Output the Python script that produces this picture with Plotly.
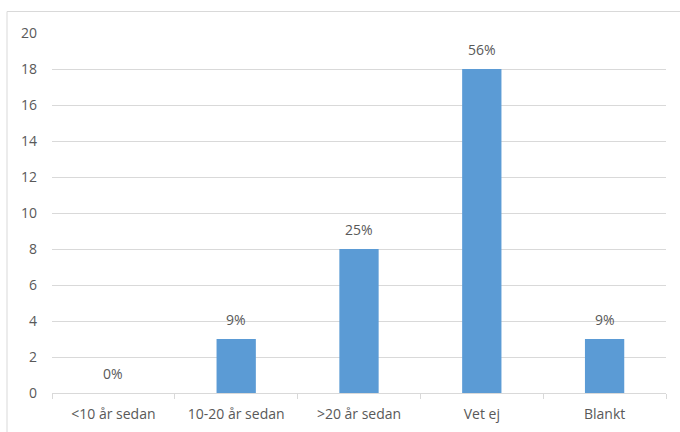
import plotly.graph_objects as go

categories = ["<10 år sedan", "10-20 år sedan", ">20 år sedan", "Vet ej", "Blankt"]
counts = [0, 3, 8, 18, 3]
percent_labels = ["0%", "9%", "25%", "56%", "9%"]
y_ticks = [0, 2, 4, 6, 8, 10, 12, 14, 16, 18, 20]

FONT = "Open Sans, Noto Sans, sans-serif"
TEXT_COLOR = "#595959"
BAR_COLOR = "#5b9bd5"
SIZE = 14

W, H = 680, 432
L, R, T, B = 52, 14, 33, 39

fig = go.Figure()
fig.add_trace(go.Bar(
    x=categories,
    y=counts,
    marker=dict(color=BAR_COLOR, line=dict(width=0)),
    hoverinfo="x+y",
))

# value labels above each bar
for cat, val, lab in zip(categories, counts, percent_labels):
    fig.add_annotation(
        x=cat, y=val, text=lab, showarrow=False,
        xref="x", yref="y", yanchor="bottom", yshift=8,
        font=dict(family=FONT, size=SIZE, color=TEXT_COLOR),
    )

# outer chart frame (left and top edges visible)
pw, ph = W - L - R, H - T - B
fx0 = (7 - L) / pw
fy1 = (H - B - 11.5) / ph
fig.add_shape(type="line", xref="paper", yref="paper",
              x0=fx0, x1=(W + 5 - L) / pw, y0=fy1, y1=fy1,
              line=dict(color="#d9d9d9", width=1))
fig.add_shape(type="line", xref="paper", yref="paper",
              x0=fx0, x1=fx0, y0=-0.5, y1=fy1,
              line=dict(color="#d9d9d9", width=1))

fig.update_layout(
    width=W, height=H,
    margin=dict(l=L, r=R, t=T, b=B, pad=0),
    paper_bgcolor="white", plot_bgcolor="white",
    bargap=0.68,
    showlegend=False,
    font=dict(family=FONT, size=SIZE, color=TEXT_COLOR),
    xaxis=dict(
        type="category",
        automargin=False,
        showgrid=False,
        showline=True, linecolor="#d9d9d9", linewidth=1,
        ticks="outside", tickson="boundaries", ticklen=5,
        tickcolor="#d9d9d9", tickwidth=1,
        ticklabelstandoff=8,
        tickfont=dict(family=FONT, size=SIZE, color=TEXT_COLOR),
        fixedrange=True,
    ),
    yaxis=dict(
        range=[0, 20],
        automargin=False,
        tickvals=y_ticks,
        showgrid=True, gridcolor="#d9d9d9", gridwidth=1,
        zeroline=False, showline=False,
        ticks="", ticklabelstandoff=14,
        tickfont=dict(family=FONT, size=SIZE, color=TEXT_COLOR),
        fixedrange=True,
    ),
)

fig.write_html("out.html")
